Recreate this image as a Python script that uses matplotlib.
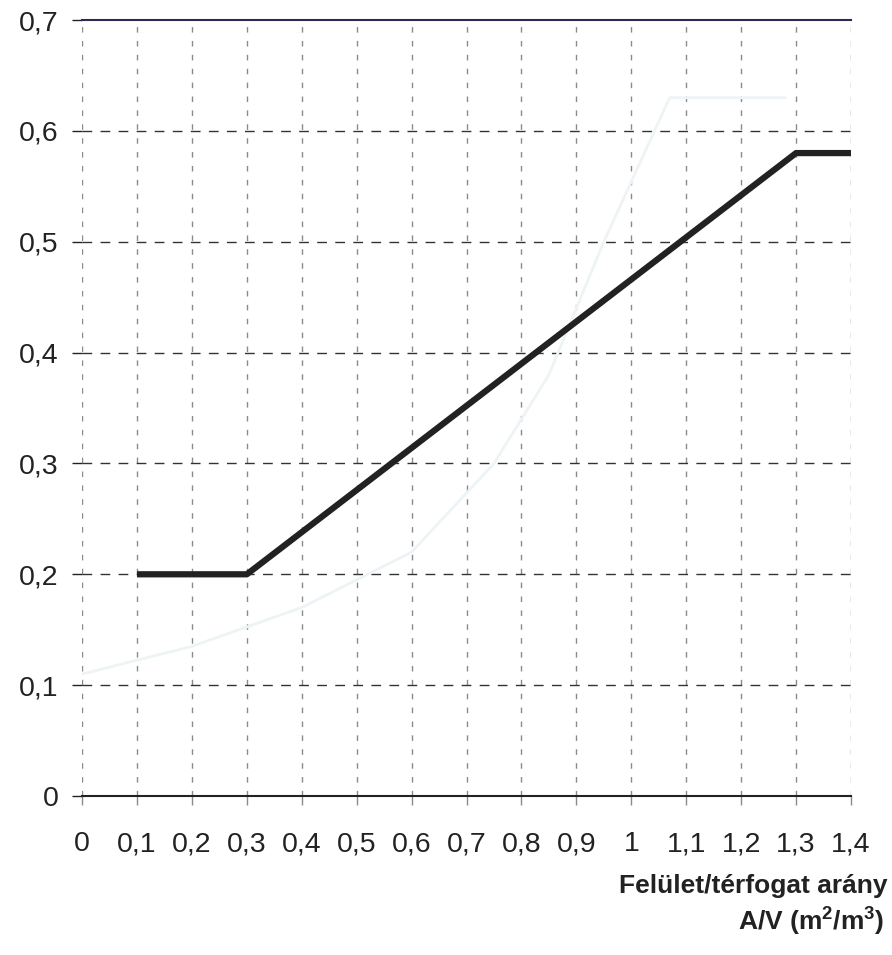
import numpy as np
from matplotlib import pyplot as plt

plt.rcParams['font.family'] = ['Liberation Sans', 'DejaVu Sans']
plt.rcParams['mathtext.fontset'] = 'custom'
plt.rcParams['mathtext.rm'] = 'Liberation Sans'
plt.rcParams['mathtext.bf'] = 'Liberation Sans:bold'

# main curve
x_main = [0.1, 0.3, 1.3, 1.4]
y_main = [0.2, 0.2, 0.58, 0.58]

# faint show-through line from the scanned page
x_faint = [0.0, 0.2, 0.4, 0.6, 0.75, 0.85, 0.95, 1.07, 1.28]
y_faint = [0.11, 0.135, 0.17, 0.22, 0.30, 0.38, 0.50, 0.63, 0.63]

x_ticks = [0, 0.1, 0.2, 0.3, 0.4, 0.5, 0.6, 0.7, 0.8, 0.9, 1, 1.1, 1.2, 1.3, 1.4]
y_ticks = [0, 0.1, 0.2, 0.3, 0.4, 0.5, 0.6, 0.7]

def hu(v):
    s = ('%.1f' % v).replace('.', ',')
    return s[:-2] if s.endswith(',0') else s

fig = plt.figure(figsize=(8.92, 9.55), dpi=100)
ax = fig.add_axes([0.092, 0.1665, 0.862, 0.8125])

ax.plot(x_faint, y_faint, color='#eef3f6', lw=2, zorder=1)

# grid
for xv in x_ticks:
    ax.axvline(xv, color='#8a8a8a', lw=1, ls=(0, (4, 6)), zorder=0)
for yv in y_ticks[1:-1]:
    ax.axhline(yv, color='#333333', lw=1, ls=(0, (7, 6)), zorder=0)

ax.plot(x_main, y_main, color='#222222', lw=4.5, solid_capstyle='butt', zorder=3)

ax.set_xlim(0, 1.4)
ax.set_ylim(0, 0.7)
ax.set_xticks(x_ticks)
ax.set_xticklabels([hu(v) for v in x_ticks])
ax.set_yticks(y_ticks)
ax.set_yticklabels([hu(v) for v in y_ticks])
ax.tick_params(axis='both', labelsize=20.5, colors='#222222')
ax.tick_params(axis='y', length=7, pad=10, width=1)
ax.tick_params(axis='x', length=6.5, pad=19, width=1, color='#8a8a8a')

ax.spines['left'].set_visible(False)
ax.spines['right'].set_visible(False)
ax.spines['top'].set_color('#2a2a55')
ax.spines['top'].set_linewidth(1.5)
ax.spines['bottom'].set_color('#222222')
ax.spines['bottom'].set_linewidth(1.5)

fig.text(0.9955, 0.0723, 'Felület/térfogat arány', ha='right', va='center',
         fontsize=19, fontweight='bold', color='#222222')
fig.text(0.992, 0.0356, r'A/V (m$^\mathbf{2}$/m$^\mathbf{3}$)', ha='right', va='center',
         fontsize=19, fontweight='bold', color='#222222')

fig.savefig('out.png', dpi=100, facecolor='white')
